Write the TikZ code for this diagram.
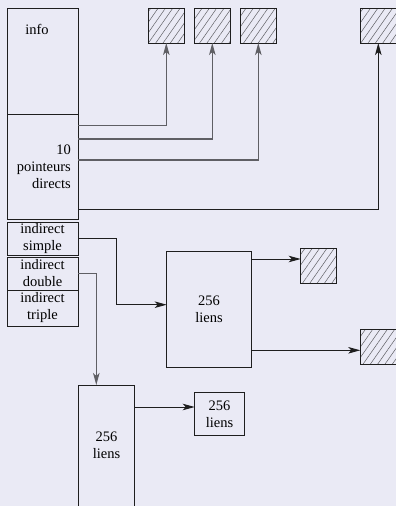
\documentclass[tikz,border=0pt]{standalone}
\usepackage{fontspec}
\setmainfont{Liberation Serif}
\usetikzlibrary{arrows.meta,patterns.meta}
\definecolor{bg}{RGB}{234,234,245}
\definecolor{ln}{RGB}{30,30,30}
\definecolor{gl}{RGB}{95,95,100}
\tikzset{
  bx/.style={draw=ln,line width=1pt,inner sep=0pt,outer sep=0pt,align=center,
    font=\fontsize{14.5}{17}\selectfont},
  hatch/.style={draw=ln,line width=1pt,inner sep=0pt,outer sep=0pt,minimum width=36pt,minimum height=35pt,
    pattern={Lines[angle=55,distance=6pt,line width=0.5pt]},pattern color=gl},
  arr/.style={draw=ln,line width=1pt,-{Stealth[length=12pt,width=6.5pt,inset=3pt]}},
  garr/.style={arr,draw=gl,line width=1.2pt},
  txt/.style={inner sep=0pt,font=\fontsize{14.5}{17}\selectfont,align=right}
}
\begin{document}
\begin{tikzpicture}[x=1pt,y=-1pt]
\fill[bg] (0,0) rectangle (396,506);
\useasboundingbox (0,0) rectangle (396,506);
% left column
\node[bx,minimum width=71pt,minimum height=106pt,anchor=north west] (info) at (7,8) {};
\node[txt] (infot) at (37,29) {info};
\node[bx,minimum width=71pt,minimum height=105.5pt,anchor=north west] (ptr) at (7,114) {};
\node[txt,anchor=east] (ptrt) at (71,167) {10\\pointeurs\\directs};
\node[bx,minimum width=71pt,minimum height=33pt,anchor=north west] (simple) at (7,222) {indirect\\simple};
\node[bx,minimum width=71pt,minimum height=33pt,anchor=north west] (double) at (7,257) {indirect\\double};
\node[bx,minimum width=71pt,minimum height=36pt,anchor=north west] (triple) at (7,290) {indirect\\triple};
% hatched blocks
\node[hatch,anchor=north west] (h1) at (148.3,8) {};
\node[hatch,anchor=north west] (h2) at (194.3,8) {};
\node[hatch,anchor=north west] (h3) at (240.3,8) {};
\node[hatch,anchor=north west] (h4) at (360.3,8) {};
\node[hatch,anchor=north west] (h5) at (300.7,248.3) {};
\node[hatch,anchor=north west] (h6) at (360.3,329.3) {};
% link blocks
\node[bx,minimum width=84.6pt,minimum height=116pt,anchor=north west] (L1) at (166.7,251.7) {256\\liens};
\node[bx,minimum width=56.4pt,minimum height=121pt,anchor=north west] (L2) at (78.3,385) {256\\liens};
\node[bx,minimum width=49.6pt,minimum height=42.3pt,anchor=north west] (L3) at (194.7,392.7) {256\\liens};
% direct pointers
\coordinate (p1) at ([yshift=-11pt]ptr.north east);
\coordinate (p2) at ([yshift=-25pt]ptr.north east);
\coordinate (p3) at ([yshift=-46pt]ptr.north east);
\coordinate (p4) at ([yshift=-95pt]ptr.north east);
\draw[arr,draw=gl] (p1) -| (h1.south);
\draw[garr] (p2) -| (h2.south);
\draw[garr] (p3) -| (h3.south);
\draw[arr] (p4) -| (h4.south);
% indirect simple
\coordinate (s1) at ([xshift=-50pt,yshift=5pt]L1.west);
\coordinate (s2) at ([yshift=5pt]L1.west);
\draw[arr] (simple.east) -| (s1) -- (s2);
\coordinate (a1) at ([yshift=-7.3pt]L1.north east);
\draw[arr] (a1) -- (a1 -| h5.west);
\coordinate (a2) at ([yshift=17.4pt]L1.south east);
\draw[arr] (a2) -- (a2 -| h6.west);
% indirect double
\coordinate (d1) at ([xshift=-10.2pt]L2.north);
\draw[garr] (double.east) -| (d1);
\coordinate (b1) at ([yshift=-22pt]L2.north east);
\draw[arr] (b1) -- (b1 -| L3.west);
\end{tikzpicture}
\end{document}
